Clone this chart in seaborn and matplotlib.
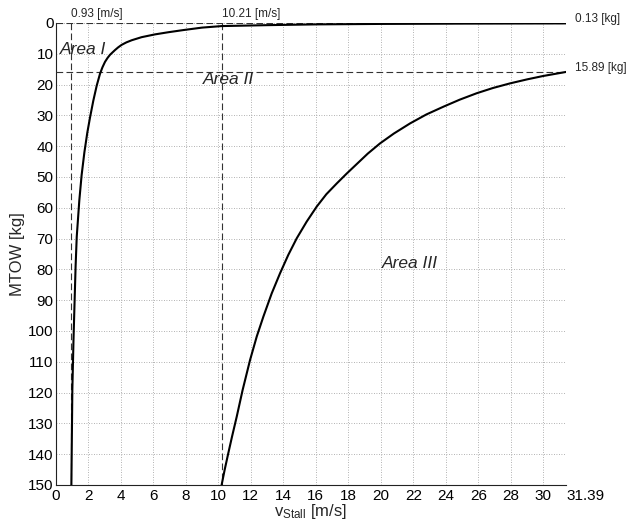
import matplotlib
matplotlib.use("Agg")
import matplotlib.pyplot as plt
import seaborn as sns
import pandas as pd

# ---- data ----
area1_v = [0.97, 1.03, 1.10, 1.17, 1.23, 1.30, 1.46, 1.60, 1.77, 1.95, 2.12, 2.32,
           2.53, 2.73, 2.88, 3.04, 3.20, 3.35, 3.65, 3.85, 4.06, 4.35, 4.68, 5.29,
           6.11, 6.93, 7.85, 9.0, 10.21, 13.0, 16.0, 20.0, 25.0, 31.39]
area1_m = [150, 119, 103, 90, 79, 69.4, 57.5, 49.4, 42.0, 35.6, 30.6, 25.2,
           20.3, 16.5, 14.4, 12.6, 11.3, 10.3, 8.8, 7.9, 7.1, 6.3, 5.6, 4.6,
           3.7, 3.0, 2.3, 1.5, 1.0, 0.7, 0.45, 0.3, 0.2, 0.13]

area3_v = [10.21, 10.40, 10.62, 10.85, 11.14, 11.50, 11.96, 12.37, 12.78, 13.29,
           13.80, 14.31, 14.83, 15.44, 16.06, 16.65, 17.29, 17.90, 18.52, 19.20,
           19.95, 20.80, 21.80, 22.80, 23.84, 24.85, 25.90, 26.90, 27.95, 29.0,
           29.99, 31.39]
area3_m = [150, 145, 139.7, 134.3, 127.8, 119.2, 109.4, 101.8, 95.3, 87.8,
           81.3, 75.3, 69.9, 64.5, 59.6, 55.6, 52.1, 48.9, 45.8, 42.4,
           39.1, 35.9, 32.6, 29.7, 27.2, 24.9, 22.8, 21.1, 19.6, 18.3,
           17.2, 15.89]

v_limits = [0.93, 10.21]          # vertical dashed lines [m/s]
m_limits = [0.13, 15.89]          # horizontal dashed lines [kg]
v_max = 31.39
m_max = 150
x_ticks = list(range(0, 31, 2)) + [31.39]
x_ticklabels = [str(t) for t in range(0, 31, 2)] + ["31.39"]
y_ticks = list(range(0, 151, 10))
area_labels = ["Area I", "Area II", "Area III"]
area_pos = [(0.25, 8.5), (9.08, 18.2), (20.05, 78.0)]

# ---- style ----
sns.set_style("white")
plt.rcParams["font.family"] = ["Liberation Sans", "DejaVu Sans"]
plt.rcParams["mathtext.fontset"] = "custom"
plt.rcParams["mathtext.rm"] = "Liberation Sans"
plt.rcParams["mathtext.it"] = "Liberation Sans:italic"

fig = plt.figure(figsize=(6.28, 5.24), dpi=100)
ax = fig.add_axes([55.6 / 628, 1 - 485 / 524, (566 - 55.6) / 628, (485 - 23) / 524])

df1 = pd.DataFrame({"v": area1_v, "m": area1_m})
df3 = pd.DataFrame({"v": area3_v, "m": area3_m})
sns.lineplot(data=df1, x="v", y="m", ax=ax, color="black", lw=1.5,
             estimator=None, sort=False, zorder=5)
sns.lineplot(data=df3, x="v", y="m", ax=ax, color="black", lw=1.5,
             estimator=None, sort=False, zorder=5)

dash_kw = dict(color="#333333", lw=0.8, ls=(0, (6, 3)), zorder=4)
for v in v_limits:
    ax.plot([v, v], [0, m_max], **dash_kw)
for m in m_limits:
    ax.plot([0, v_max], [m, m], **dash_kw)

ax.set_xlim(0, v_max)
ax.set_ylim(m_max, 0)
ax.set_xticks(x_ticks)
ax.set_xticklabels(x_ticklabels)
ax.set_yticks(y_ticks)
ax.get_xticklabels()[-1].set_horizontalalignment("left")

ax.grid(True, ls=(0, (1, 2)), lw=0.6, color="#999999", zorder=0)
ax.set_axisbelow(True)

for s in ["top", "right"]:
    ax.spines[s].set_visible(False)
for s in ["left", "bottom"]:
    ax.spines[s].set_color("#222222")
    ax.spines[s].set_linewidth(0.8)

ax.tick_params(axis="both", direction="in", length=3.5, width=0.7,
               labelsize=11, colors="#222222", labelcolor="black")
ax.tick_params(axis="y", pad=1.5)
ax.tick_params(axis="x", pad=3)

ax.set_xlabel(r"v$_{\mathregular{Stall}}$ [m/s]", fontsize=12, labelpad=-1)
ax.set_ylabel("MTOW [kg]", fontsize=12, labelpad=2)

# annotations for limit values
ax.text(v_limits[0], -2.9, f"{v_limits[0]:.2f} [m/s]", fontsize=8.5,
        ha="left", va="center", clip_on=False)
ax.text(v_limits[1], -2.9, f"{v_limits[1]:.2f} [m/s]", fontsize=8.5,
        ha="left", va="center", clip_on=False)
ax.text(31.94, m_limits[0] - 1.4, f"{m_limits[0]:.2f} [kg]", fontsize=8.5,
        ha="left", va="center", clip_on=False)
ax.text(31.94, m_limits[1] - 1.3, f"{m_limits[1]:.2f} [kg]", fontsize=8.5,
        ha="left", va="center", clip_on=False)

for lab, (x, y) in zip(area_labels, area_pos):
    ax.text(x, y, lab, fontsize=12.5, style="italic", ha="left", va="center",
            zorder=6)

fig.savefig("out.png", dpi=100)
